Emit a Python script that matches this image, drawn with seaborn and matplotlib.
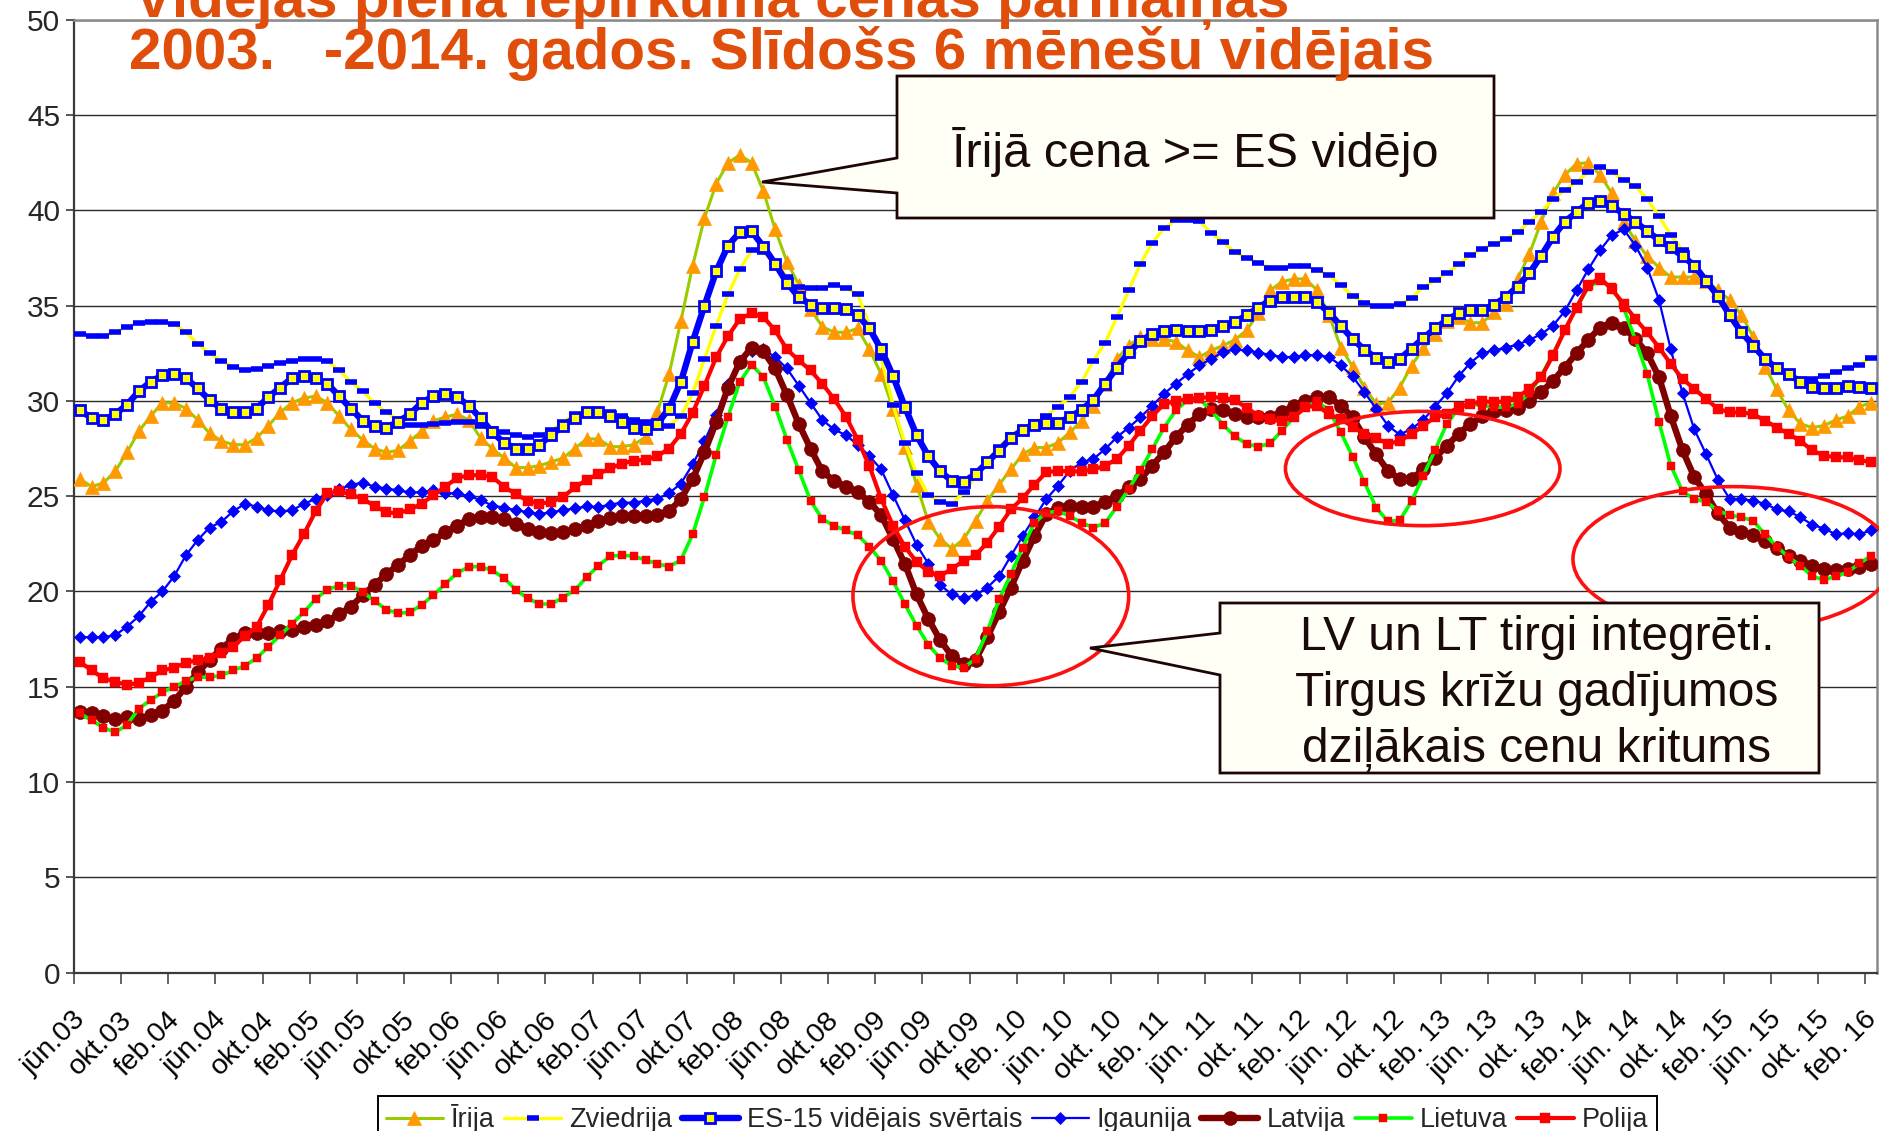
import numpy as np
import pandas as pd
import matplotlib
matplotlib.use("Agg")
import matplotlib.pyplot as plt
import matplotlib.transforms as mtransforms
from matplotlib.patches import Polygon, Ellipse
from matplotlib.lines import Line2D
import seaborn as sns

sns.set_style("white")
plt.rcParams['font.family'] = ['Liberation Sans', 'DejaVu Sans']

# ---------------- data ----------------
n_months = 153  # jūn.03 ... feb.16, monthly
label_pos = list(range(0, 153, 4))
xtick_labels = ['jūn.03', 'okt.03', 'feb.04', 'jūn.04', 'okt.04', 'feb.05', 'jūn.05', 'okt.05',
                'feb.06', 'jūn.06', 'okt.06', 'feb.07', 'jūn.07', 'okt.07', 'feb.08', 'jūn.08',
                'okt.08', 'feb.09', 'jūn.09', 'okt.09', 'feb. 10', 'jūn. 10', 'okt. 10', 'feb. 11',
                'jūn. 11', 'okt. 11', 'feb. 12', 'jūn. 12', 'okt. 12', 'feb. 13', 'jūn. 13', 'okt. 13',
                'feb. 14', 'jūn. 14', 'okt. 14', 'feb. 15', 'jūn. 15', 'okt. 15', 'feb. 16']
yticks = [0, 5, 10, 15, 20, 25, 30, 35, 40, 45, 50]

irija = [25.9, 25.5, 25.7, 26.3, 27.3, 28.4, 29.2, 29.9, 29.9, 29.6,
         29.0, 28.3, 27.9, 27.7, 27.7, 28.05, 28.7, 29.4, 29.9, 30.15,
         30.25, 29.9, 29.2, 28.5, 27.95, 27.5, 27.3, 27.4, 27.9, 28.4,
         28.95, 29.15, 29.3, 29.0, 28.05, 27.5, 27.0, 26.5, 26.5, 26.6,
         26.8, 27.0, 27.5, 28.0, 28.0, 27.6, 27.6, 27.7, 28.1, 29.4,
         31.4, 34.2, 37.1, 39.6, 41.4, 42.5, 42.9, 42.5, 41.0, 39.0,
         37.3, 36.1, 34.8, 33.9, 33.6, 33.6, 33.8, 32.7, 31.4, 29.6,
         27.6, 25.6, 23.65, 22.75, 22.25, 22.75, 23.7, 24.75, 25.6, 26.4,
         27.2, 27.55, 27.55, 27.8, 28.35, 28.95, 29.75, 30.9, 32.2, 32.9,
         33.35, 33.25, 33.25, 33.1, 32.65, 32.3, 32.65, 32.9, 33.2, 33.7,
         34.6, 35.8, 36.25, 36.4, 36.4, 35.8, 34.5, 32.8, 31.8, 30.7,
         29.85, 29.9, 30.7, 31.85, 32.75, 33.5, 34.2, 34.4, 34.1, 34.1,
         34.65, 35.1, 36.4, 37.7, 39.4, 40.9, 41.85, 42.45, 42.5, 41.85,
         40.9, 39.4, 38.4, 37.6, 37.0, 36.5, 36.5, 36.5, 36.3, 35.8,
         35.3, 34.5, 33.35, 31.8, 30.6, 29.5, 28.8, 28.6, 28.7, 29.0,
         29.2, 29.7, 29.9]

zviedrija = [33.5, 33.4, 33.4, 33.6, 33.9, 34.1, 34.15, 34.15, 34.05, 33.6,
             33.0, 32.5, 32.1, 31.8, 31.6, 31.65, 31.85, 32.0, 32.1, 32.2,
             32.2, 32.1, 31.6, 31.0, 30.5, 29.9, 29.4, 29.0, 28.75, 28.75,
             28.8, 28.85, 28.9, 28.9, 28.7, 28.5, 28.35, 28.2, 28.1, 28.2,
             28.45, 28.9, 29.3, 29.5, 29.5, 29.4, 29.2, 29.0, 28.9, 28.7,
             28.7, 29.2, 30.4, 32.2, 33.95, 35.6, 36.9, 37.9, 37.8, 37.3,
             36.5, 36.0, 35.95, 35.95, 36.1, 35.9, 35.6, 33.95, 32.25, 29.8,
             27.8, 26.2, 25.05, 24.7, 24.6, 25.2, 26.0, 26.9, 27.6, 28.2,
             28.6, 28.9, 29.2, 29.7, 30.2, 31.0, 32.1, 33.05, 34.4, 35.8,
             37.2, 38.3, 39.05, 39.5, 39.5, 39.45, 38.8, 38.35, 37.8, 37.5,
             37.25, 37.0, 37.0, 37.07, 37.07, 36.86, 36.6, 36.07, 35.5, 35.14,
             34.96, 34.96, 35.07, 35.4, 35.97, 36.32, 36.7, 37.16, 37.64, 37.99,
             38.25, 38.5, 38.86, 39.39, 39.9, 40.6, 41.05, 41.5, 42.0, 42.3,
             42.0, 41.6, 41.26, 40.6, 39.7, 38.7, 37.9, 37.06, 36.23, 35.36,
             34.3, 33.6, 32.9, 32.3, 31.7, 31.24, 31.07, 31.16, 31.33, 31.5,
             31.7, 31.9, 32.26]

es15 = [29.5, 29.1, 29.0, 29.3, 29.8, 30.5, 31.0, 31.35, 31.4, 31.2,
        30.65, 30.05, 29.6, 29.4, 29.4, 29.6, 30.2, 30.7, 31.2, 31.3,
        31.2, 30.9, 30.25, 29.6, 28.95, 28.7, 28.6, 28.9, 29.3, 29.9,
        30.25, 30.35, 30.2, 29.75, 29.1, 28.35, 27.8, 27.5, 27.5, 27.7,
        28.2, 28.7, 29.1, 29.4, 29.4, 29.2, 28.9, 28.6, 28.5, 28.8,
        29.6, 31.0, 33.1, 35.0, 36.8, 38.15, 38.85, 38.9, 38.1, 37.2,
        36.2, 35.45, 35.05, 34.9, 34.9, 34.8, 34.5, 33.8, 32.7, 31.3,
        29.7, 28.2, 27.1, 26.3, 25.8, 25.75, 26.16, 26.77, 27.39, 28.05,
        28.47, 28.74, 28.84, 28.84, 29.14, 29.53, 30.05, 30.9, 31.74, 32.54,
        33.12, 33.53, 33.68, 33.7, 33.65, 33.65, 33.74, 33.93, 34.14, 34.49,
        34.9, 35.26, 35.46, 35.46, 35.46, 35.19, 34.63, 33.93, 33.26, 32.68,
        32.26, 32.04, 32.2, 32.74, 33.3, 33.8, 34.25, 34.6, 34.75, 34.75,
        35.05, 35.45, 36.0, 36.7, 37.6, 38.6, 39.4, 39.9, 40.4, 40.5,
        40.25, 39.8, 39.4, 38.9, 38.45, 38.05, 37.6, 37.1, 36.3, 35.5,
        34.5, 33.6, 32.9, 32.2, 31.7, 31.4, 31.0, 30.75, 30.7, 30.7,
        30.8, 30.75, 30.7]

igaunija = [17.6, 17.6, 17.6, 17.7, 18.15, 18.7, 19.45, 20.0, 20.8, 21.9,
            22.7, 23.35, 23.65, 24.2, 24.6, 24.45, 24.25, 24.2, 24.25, 24.6,
            24.85, 25.05, 25.35, 25.6, 25.7, 25.5, 25.4, 25.3, 25.2, 25.2,
            25.3, 25.15, 25.15, 25.0, 24.8, 24.5, 24.4, 24.26, 24.16, 24.06,
            24.16, 24.26, 24.36, 24.46, 24.42, 24.56, 24.66, 24.66, 24.76, 24.86,
            25.16, 25.66, 26.67, 27.87, 29.28, 30.88, 32.1, 32.6, 32.7, 32.3,
            31.7, 30.8, 29.9, 29.0, 28.5, 28.2, 27.7, 27.1, 26.4, 25.06,
            23.76, 22.45, 21.45, 20.34, 19.84, 19.65, 19.8, 20.2, 20.8, 21.86,
            22.9, 23.88, 24.84, 25.54, 26.33, 26.77, 26.95, 27.47, 28.1, 28.6,
            29.14, 29.75, 30.37, 30.9, 31.4, 31.86, 32.2, 32.56, 32.7, 32.65,
            32.53, 32.42, 32.3, 32.3, 32.4, 32.4, 32.3, 31.86, 31.28, 30.46,
            29.58, 28.7, 28.23, 28.53, 29.0, 29.7, 30.4, 31.3, 32.0, 32.5,
            32.65, 32.8, 32.95, 33.2, 33.5, 33.95, 34.7, 35.8, 36.9, 37.9,
            38.7, 39.0, 38.15, 37.0, 35.3, 32.7, 30.4, 28.5, 27.2, 25.85,
            24.85, 24.85, 24.75, 24.6, 24.3, 24.2, 23.9, 23.5, 23.3, 23.0,
            23.05, 23.0, 23.2]

latvija = [13.66, 13.6, 13.45, 13.3, 13.4, 13.3, 13.5, 13.75, 14.25, 15.0,
           15.75, 16.4, 17.0, 17.5, 17.8, 17.8, 17.8, 17.9, 18.0, 18.15,
           18.25, 18.45, 18.8, 19.2, 19.8, 20.35, 20.9, 21.4, 21.9, 22.4,
           22.7, 23.1, 23.45, 23.8, 23.9, 23.9, 23.8, 23.55, 23.3, 23.1,
           23.05, 23.1, 23.25, 23.45, 23.7, 23.86, 23.96, 23.96, 23.96, 24.0,
           24.2, 24.85, 25.9, 27.3, 28.9, 30.7, 32.05, 32.8, 32.6, 31.7,
           30.3, 28.8, 27.5, 26.3, 25.8, 25.5, 25.2, 24.7, 24.0, 22.75,
           21.45, 19.84, 18.55, 17.45, 16.6, 16.2, 16.4, 17.6, 18.9, 20.2,
           21.6, 22.9, 24.05, 24.4, 24.5, 24.44, 24.44, 24.67, 25.0, 25.46,
           25.9, 26.6, 27.3, 28.1, 28.75, 29.3, 29.6, 29.5, 29.3, 29.14,
           29.14, 29.14, 29.4, 29.75, 30.0, 30.2, 30.2, 29.75, 29.14, 28.1,
           27.2, 26.33, 25.9, 25.9, 26.4, 27.0, 27.65, 28.27, 28.8, 29.2,
           29.45, 29.5, 29.65, 30.0, 30.45, 31.05, 31.75, 32.5, 33.2, 33.85,
           34.1, 33.85, 33.25, 32.5, 31.25, 29.2, 27.4, 26.0, 25.1, 24.1,
           23.35, 23.1, 22.97, 22.66, 22.28, 21.87, 21.6, 21.35, 21.17, 21.1,
           21.17, 21.26, 21.44]

lietuva = [13.6, 13.23, 12.85, 12.6, 13.0, 13.85, 14.3, 14.7, 15.0, 15.3,
           15.5, 15.5, 15.6, 15.85, 16.1, 16.5, 17.1, 17.7, 18.3, 18.9,
           19.6, 20.1, 20.3, 20.3, 19.98, 19.5, 19.05, 18.85, 18.9, 19.3,
           19.8, 20.4, 20.95, 21.3, 21.3, 21.1, 20.7, 20.08, 19.64, 19.34,
           19.34, 19.68, 20.08, 20.74, 21.35, 21.85, 21.9, 21.85, 21.65, 21.45,
           21.3, 21.65, 23.0, 24.96, 27.17, 29.18, 31.0, 31.9, 31.25, 29.7,
           27.97, 26.36, 24.76, 23.8, 23.45, 23.2, 22.95, 22.35, 21.6, 20.54,
           19.34, 18.2, 17.2, 16.5, 16.1, 16.0, 16.46, 17.9, 19.58, 20.9,
           22.3, 23.6, 24.14, 24.2, 23.96, 23.6, 23.35, 23.6, 24.44, 25.37,
           26.37, 27.47, 28.6, 29.5, 30.05, 30.1, 29.5, 28.75, 28.14, 27.74,
           27.6, 27.77, 28.44, 29.14, 29.67, 29.98, 29.5, 28.35, 27.07, 25.72,
           24.4, 23.67, 23.74, 24.72, 26.07, 27.43, 28.8, 29.6, 29.85, 29.75,
           29.67, 29.67, 29.85, 30.4, 31.3, 32.47, 33.7, 34.9, 35.97, 36.3,
           35.97, 34.9, 33.2, 31.4, 28.9, 26.6, 25.25, 24.85, 24.7, 24.24,
           24.0, 23.9, 23.7, 23.0, 22.35, 21.8, 21.35, 20.8, 20.6, 20.8,
           21.0, 21.47, 21.87]

polija = [16.3, 15.85, 15.45, 15.25, 15.1, 15.2, 15.5, 15.85, 16.0, 16.25,
          16.4, 16.5, 16.75, 17.1, 17.65, 18.15, 19.3, 20.6, 21.9, 23.0,
          24.2, 25.15, 25.25, 25.1, 24.85, 24.5, 24.15, 24.1, 24.3, 24.6,
          25.05, 25.5, 25.95, 26.1, 26.1, 26.0, 25.5, 25.1, 24.76, 24.6,
          24.7, 24.96, 25.46, 25.86, 26.16, 26.47, 26.7, 26.87, 26.9, 27.1,
          27.5, 28.27, 29.38, 30.8, 32.3, 33.4, 34.3, 34.6, 34.4, 33.7,
          32.7, 32.13, 31.6, 30.9, 30.1, 29.18, 27.97, 26.57, 24.86, 23.45,
          22.35, 21.55, 21.04, 20.8, 21.2, 21.6, 21.9, 22.56, 23.4, 24.3,
          24.9, 25.6, 26.25, 26.33, 26.3, 26.3, 26.4, 26.6, 26.95, 27.65,
          28.44, 29.2, 29.84, 30.0, 30.1, 30.16, 30.2, 30.16, 30.05, 29.63,
          29.23, 29.05, 28.93, 29.14, 29.67, 29.75, 29.3, 29.05, 28.65, 28.26,
          28.05, 27.74, 27.9, 28.26, 28.7, 29.15, 29.3, 29.67, 29.85, 29.98,
          29.93, 29.98, 30.2, 30.63, 31.24, 32.38, 33.7, 34.9, 36.06, 36.46,
          35.85, 35.1, 34.3, 33.6, 32.8, 31.94, 31.15, 30.63, 30.1, 29.58,
          29.4, 29.4, 29.3, 28.97, 28.6, 28.27, 27.9, 27.4, 27.13, 27.04,
          27.04, 26.9, 26.78]

series_names = ['Īrija', 'Zviedrija', 'ES-15 vidējais svērtais', 'Igaunija',
                'Latvija', 'Lietuva', 'Polija']
series_values = [irija, zviedrija, es15, igaunija, latvija, lietuva, polija]

title_line1 = 'Vidējās piena iepirkuma cenas pārmaiņas'
title_line2 = '2003.   -2014. gados. Slīdošs 6 mēnešu vidējais'
callout1_text = 'Īrijā cena >= ES vidējo'
callout2_lines = ['LV un LT tirgi integrēti.', 'Tirgus krīžu gadījumos',
                  'dziļākais cenu kritums']

# ---------------- styles ----------------
styles = {
    'Īrija': dict(color='#99CC00', linewidth=2.2, marker='^', markersize=9.5,
                  markerfacecolor='#FF9900', markeredgecolor='#FF9900', markeredgewidth=0.5),
    'Zviedrija': dict(color='#FFFF00', linewidth=2.4, marker='_', markersize=8.5,
                      markerfacecolor='#0000FF', markeredgecolor='#0000FF', markeredgewidth=4.0),
    'ES-15 vidējais svērtais': dict(color='#0000FF', linewidth=4.6, marker='s', markersize=7.2,
                                    markerfacecolor='#FFFF00', markeredgecolor='#0000FF',
                                    markeredgewidth=2.0),
    'Igaunija': dict(color='#0000FF', linewidth=1.6, marker='D', markersize=6.5,
                     markerfacecolor='#0000FF', markeredgecolor='#0000FF', markeredgewidth=0.5),
    'Latvija': dict(color='#800000', linewidth=4.6, marker='o', markersize=10,
                    markerfacecolor='#800000', markeredgecolor='#800000', markeredgewidth=0.5),
    'Lietuva': dict(color='#00FF00', linewidth=2.6, marker='s', markersize=6.2,
                    markerfacecolor='#FF0000', markeredgecolor='#FF0000', markeredgewidth=0.3),
    'Polija': dict(color='#FF0000', linewidth=3.0, marker='s', markersize=7.6,
                   markerfacecolor='#FF0000', markeredgecolor='#FF0000', markeredgewidth=0.3),
}

W, H = 1879, 1131
fig = plt.figure(figsize=(W / 100, H / 100), dpi=100)
ax_left, ax_right, ax_top, ax_bottom = 74, 1877, 19.8, 972.5
ax = fig.add_axes([ax_left / W, 1 - ax_bottom / H, (ax_right - ax_left) / W,
                   (ax_bottom - ax_top) / H])

x = np.arange(n_months)
for z, (name, vals) in enumerate(zip(series_names, series_values)):
    df = pd.DataFrame({'x': x, 'y': vals})
    sns.lineplot(data=df, x='x', y='y', ax=ax, zorder=3 + z, **styles[name])

ax.set_xlim(-0.5, n_months - 0.5)
ax.set_ylim(0, 50)
ax.set_xlabel('')
ax.set_ylabel('')

# grid & spines
ax.set_yticks(yticks)
ax.set_yticklabels([str(v) for v in yticks], fontsize=21.5)
ax.yaxis.grid(True, color='#2a2a2a', linewidth=1.0, zorder=0)
ax.xaxis.grid(False)
ax.set_axisbelow(True)
for side in ['left', 'bottom']:
    ax.spines[side].set_color('#3a3a3a')
    ax.spines[side].set_linewidth(1.6)
for side in ['top', 'right']:
    ax.spines[side].set_color('#8a8a8a')
    ax.spines[side].set_linewidth(1.8)
ax.tick_params(axis='y', which='major', direction='out', length=6, width=1.2,
               color='#3a3a3a', pad=4, left=True)

major_x = [p - 0.5 for p in range(0, n_months, 4)]
ax.set_xticks(major_x)
ax.set_xticklabels([])
ax.tick_params(axis='x', which='major', direction='out', length=8, width=1.1,
               color='#3a3a3a', bottom=True)

offset = mtransforms.ScaledTranslation(-8 / 100, -34 / 100, fig.dpi_scale_trans)
trans = ax.get_xaxis_transform() + offset
for pos, lab in zip(label_pos, xtick_labels):
    ax.text(pos, 0, lab, transform=trans, rotation=45, ha='right', va='top',
            rotation_mode='anchor', fontsize=20.5, color='black', clip_on=False)

# ellipses (data coords)
ell_specs = [((77.3, 19.75), 23.4, 9.4), ((113.95, 26.45), 23.3, 6.0),
             ((140.3, 21.7), 27.2, 7.6)]
for (c, w, h) in ell_specs:
    ax.add_patch(Ellipse(c, w, h, fill=False, edgecolor='#FF1010', linewidth=2.6,
                         zorder=15, clip_on=False))


def px(xp, yp):
    return (xp / W, 1 - yp / H)


box_face = '#FFFFF6'
box_edge = '#1E0505'
callout1 = [px(897, 76), px(1494, 76), px(1494, 218), px(897, 218), px(897, 193),
            px(762, 182), px(897, 158)]
callout2 = [px(1220, 603), px(1819, 603), px(1819, 773), px(1220, 773), px(1220, 675),
            px(1090, 648), px(1220, 633)]
for poly in (callout1, callout2):
    ax.add_patch(Polygon(poly, closed=True, facecolor=box_face, edgecolor=box_edge,
                         linewidth=2.0, transform=fig.transFigure, clip_on=False,
                         zorder=20, joinstyle='miter'))

ax.text(*px(1195, 167), callout1_text, transform=fig.transFigure, ha='center',
        va='baseline', fontsize=35, color='#1A0A0A', zorder=21)
for k, line in enumerate(callout2_lines):
    ax.text(*px(1537, 650 + 56 * k), line, transform=fig.transFigure, ha='center',
            va='baseline', fontsize=34.5, color='#1A0A0A', zorder=21)

# title (partly cut at the top as in the original)
title_color = '#E04E0C'
ax.text(*px(134, 17), title_line1, transform=fig.transFigure, ha='left', va='baseline',
        fontsize=42, fontweight='bold', color=title_color, zorder=30, clip_on=False)
ax.text(*px(129, 69), title_line2, transform=fig.transFigure, ha='left', va='baseline',
        fontsize=42, fontweight='bold', color=title_color, zorder=30, clip_on=False)

# legend
handles = [Line2D([0], [0], **styles[n]) for n in series_names]
leg = ax.legend(handles, series_names, loc='upper center',
                bbox_to_anchor=(1017 / W, 1 - 1096 / H), bbox_transform=fig.transFigure,
                ncol=7, frameon=True, fancybox=False, edgecolor='black', fontsize=19.5,
                handlelength=2.1, handletextpad=0.3, columnspacing=0.35, borderpad=0.3,
                numpoints=1, borderaxespad=0, framealpha=1)
leg.get_frame().set_linewidth(1.4)
leg.set_zorder(40)

fig.savefig('out.png', dpi=100)
